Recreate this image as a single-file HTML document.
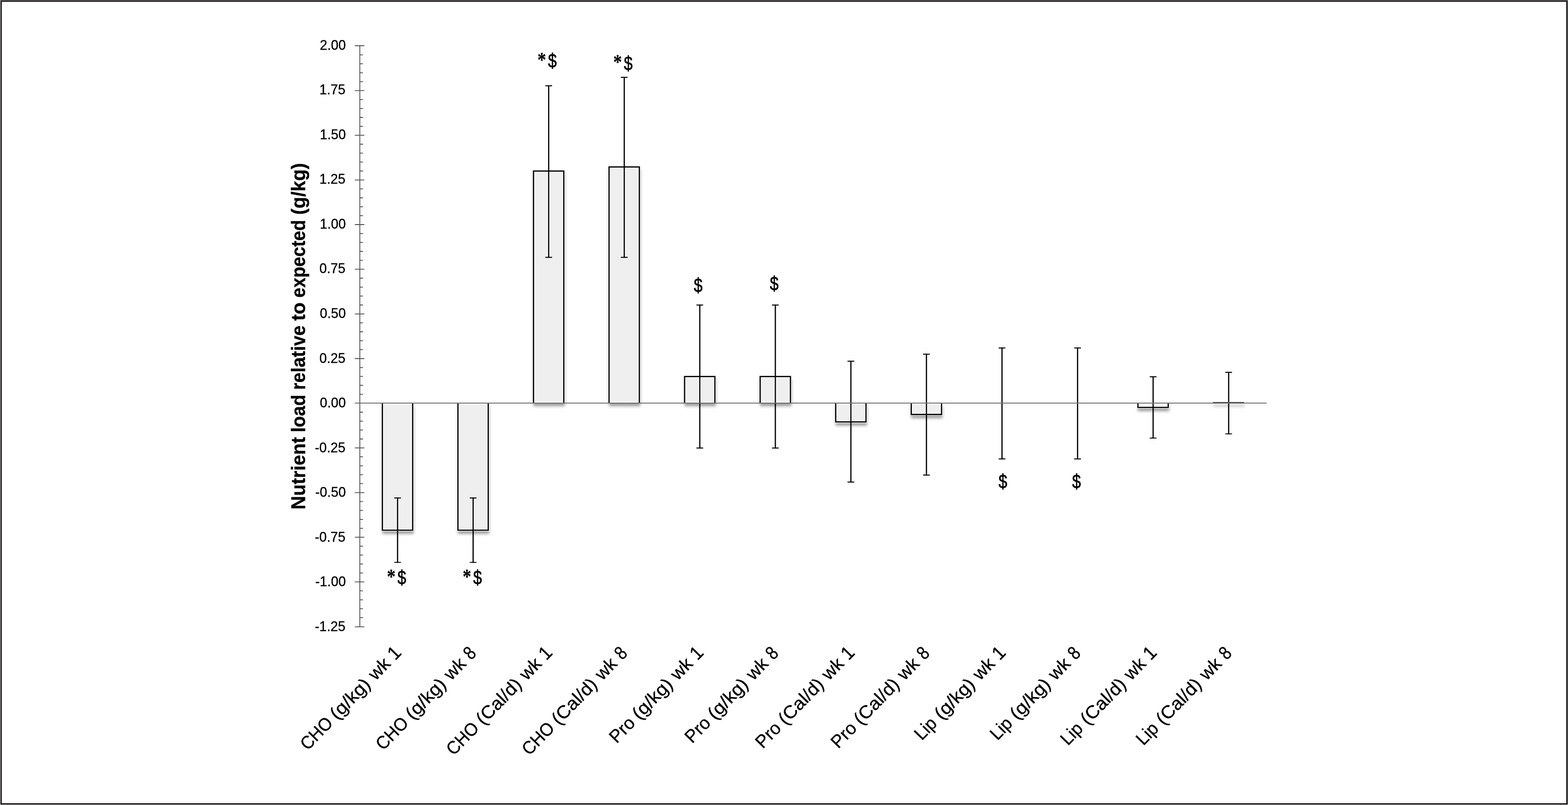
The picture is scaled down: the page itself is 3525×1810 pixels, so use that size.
<!DOCTYPE html>
<html lang="en"><head><meta charset="utf-8">
<title>Nutrient load relative to expected</title>
<style>
html,body{margin:0;padding:0;background:#fff;}
body{width:3525px;height:1810px;overflow:hidden;}
svg{display:block;}
text{font-family:"Liberation Sans",sans-serif;fill:#000;font-kerning:none;white-space:pre;}
tspan{font-kerning:none;}
.tick{font-size:30.6px;text-anchor:end;stroke:#000;stroke-width:0.4px;}
.cat{font-size:40.7px;stroke:#000;stroke-width:0.45px;}
.ann{font-size:44px;stroke:#000;stroke-width:0.9px;}
.ast{font-size:46.4px;font-family:"Liberation Serif",serif;font-weight:bold;stroke-width:0.3px;}
.title{font-size:43.5px;font-weight:bold;stroke:#000;stroke-width:0.4px;}
</style></head><body>
<svg width="3525" height="1810" viewBox="0 0 3525 1810">
<defs><filter id="sh" x="0" y="0" width="3525" height="1810" filterUnits="userSpaceOnUse"><feGaussianBlur in="SourceAlpha" stdDeviation="3"/><feOffset dx="0.8" dy="7.2"/><feComponentTransfer><feFuncA type="linear" slope="0.38"/></feComponentTransfer></filter></defs>
<rect x="0" y="0" width="3525" height="1810" fill="#fff"/>
<rect x="0" y="0" width="3525" height="1" fill="#a39f9f"/>
<rect x="0" y="1" width="1" height="1809" fill="#dedede"/>
<rect x="3524" y="1" width="1" height="1809" fill="#9a9696"/>
<rect x="0" y="1809" width="3525" height="1" fill="#d8d6d6"/>
<rect x="2.5" y="2.5" width="3520" height="1805" fill="none" stroke="#1c1819" stroke-width="3"/>
<g fill="#000" filter="url(#sh)">
<rect x="858.25" y="906.40" width="70.90" height="287.10"/>
<rect x="1028.10" y="906.40" width="70.90" height="287.10"/>
<rect x="1197.95" y="383.20" width="70.90" height="523.20"/>
<rect x="1367.80" y="373.90" width="70.90" height="532.50"/>
<rect x="1537.65" y="845.30" width="70.90" height="61.10"/>
<rect x="1707.50" y="845.30" width="70.90" height="61.10"/>
<rect x="1877.35" y="906.40" width="70.90" height="43.70"/>
<rect x="2047.20" y="906.40" width="70.90" height="27.00"/>
<rect x="2556.75" y="906.40" width="70.90" height="11.10"/>
<rect x="2726.60" y="903.50" width="70.90" height="2.90"/>
</g>
<g fill="#efefef">
<rect x="859.65" y="906.40" width="68.10" height="285.70"/>
<rect x="1029.50" y="906.40" width="68.10" height="285.70"/>
<rect x="1199.35" y="384.60" width="68.10" height="521.80"/>
<rect x="1369.20" y="375.30" width="68.10" height="531.10"/>
<rect x="1539.05" y="846.70" width="68.10" height="59.70"/>
<rect x="1708.90" y="846.70" width="68.10" height="59.70"/>
<rect x="1878.75" y="906.40" width="68.10" height="42.30"/>
<rect x="2048.60" y="906.40" width="68.10" height="25.60"/>
<rect x="2558.15" y="906.40" width="68.10" height="9.70" fill="#f5f5f5"/>
</g>
<g fill="none" stroke="#fafafa" stroke-width="5.8">
<path d="M859.65 906.40V1192.10H927.75V906.40"/>
<path d="M1029.50 906.40V1192.10H1097.60V906.40"/>
<path d="M1199.35 906.40V384.60H1267.45V906.40"/>
<path d="M1369.20 906.40V375.30H1437.30V906.40"/>
<path d="M1539.05 906.40V846.70H1607.15V906.40"/>
<path d="M1708.90 906.40V846.70H1777.00V906.40"/>
<path d="M1878.75 906.40V948.70H1946.85V906.40"/>
<path d="M2048.60 906.40V932.00H2116.70V906.40"/>
<path d="M2558.15 906.40V916.10H2626.25V906.40"/>
<path d="M893.80 1119.70V1192.10"/>
<path d="M1063.65 1119.70V1192.10"/>
<path d="M1233.50 384.60V578.70"/>
<path d="M1403.35 375.30V578.70"/>
<path d="M1573.20 846.70V906.40"/>
<path d="M1743.05 846.70V906.40"/>
<path d="M1912.90 906.40V948.70"/>
<path d="M2082.75 906.40V932.00"/>
<path d="M2592.30 906.40V916.10"/>
</g>
<g fill="#fafafa">
<rect x="859.65" y="906.40" width="68.10" height="2.8"/>
<rect x="1029.50" y="906.40" width="68.10" height="2.8"/>
<rect x="1199.35" y="903.60" width="68.10" height="2.8"/>
<rect x="1369.20" y="903.60" width="68.10" height="2.8"/>
<rect x="1539.05" y="903.60" width="68.10" height="2.8"/>
<rect x="1708.90" y="903.60" width="68.10" height="2.8"/>
<rect x="1878.75" y="906.40" width="68.10" height="2.8"/>
<rect x="2048.60" y="906.40" width="68.10" height="2.8"/>
<rect x="2558.15" y="906.40" width="68.10" height="2.8"/>
</g>
<g fill="none" stroke="#000" stroke-width="2.8" stroke-linejoin="miter">
<path d="M859.65 906.40V1192.10H927.75V906.40"/>
<path d="M1029.50 906.40V1192.10H1097.60V906.40"/>
<path d="M1199.35 906.40V384.60H1267.45V906.40"/>
<path d="M1369.20 906.40V375.30H1437.30V906.40"/>
<path d="M1539.05 906.40V846.70H1607.15V906.40"/>
<path d="M1708.90 906.40V846.70H1777.00V906.40"/>
<path d="M1878.75 906.40V948.70H1946.85V906.40"/>
<path d="M2048.60 906.40V932.00H2116.70V906.40"/>
<path d="M2558.15 906.40V916.10H2626.25V906.40"/>
</g>
<g stroke="#000" stroke-width="2.7" fill="none">
<path d="M893.80 1118.70V1265.50"/>
<path d="M1063.65 1118.70V1265.50"/>
<path d="M1233.50 191.90V579.70"/>
<path d="M1403.35 172.90V579.70"/>
<path d="M1573.20 684.80V1008.30"/>
<path d="M1743.05 684.80V1008.30"/>
<path d="M1912.90 811.20V1084.90"/>
<path d="M2082.75 795.30V1069.20"/>
<path d="M2252.60 781.30V1032.80"/>
<path d="M2422.45 781.30V1032.80"/>
<path d="M2592.30 846.10V986.00"/>
<path d="M2762.15 836.20V976.50"/>
</g>
<g stroke="#000" stroke-width="2.2" fill="none">
<path d="M886.20 1119.70h15.2M886.20 1264.50h15.2"/>
<path d="M1056.05 1119.70h15.2M1056.05 1264.50h15.2"/>
<path d="M1225.90 192.90h15.2M1225.90 578.70h15.2"/>
<path d="M1395.75 173.90h15.2M1395.75 578.70h15.2"/>
<path d="M1565.60 685.80h15.2M1565.60 1007.30h15.2"/>
<path d="M1735.45 685.80h15.2M1735.45 1007.30h15.2"/>
<path d="M1905.30 812.20h15.2M1905.30 1083.90h15.2"/>
<path d="M2075.15 796.30h15.2M2075.15 1068.20h15.2"/>
<path d="M2245.00 782.30h15.2M2245.00 1031.80h15.2"/>
<path d="M2414.85 782.30h15.2M2414.85 1031.80h15.2"/>
<path d="M2584.70 847.10h15.2M2584.70 985.00h15.2"/>
<path d="M2754.55 837.20h15.2M2754.55 975.50h15.2"/>
</g>
<g stroke="#4a4a4a" stroke-width="1.8" fill="none">
<path d="M808.90 101.85V1410.25"/>
<path d="M797.70 102.75H819.10M808.90 123.38H816.10M808.90 143.47H816.10M808.90 163.55H816.10M808.90 183.64H816.10M797.70 203.72H819.10M808.90 223.81H816.10M808.90 243.89H816.10M808.90 263.98H816.10M808.90 284.06H816.10M797.70 304.15H819.10M808.90 324.23H816.10M808.90 344.32H816.10M808.90 364.40H816.10M808.90 384.48H816.10M797.70 404.57H819.10M808.90 424.65H816.10M808.90 444.74H816.10M808.90 464.82H816.10M808.90 484.91H816.10M797.70 504.99H819.10M808.90 525.08H816.10M808.90 545.16H816.10M808.90 565.25H816.10M808.90 585.33H816.10M797.70 605.42H819.10M808.90 625.50H816.10M808.90 645.58H816.10M808.90 665.67H816.10M808.90 685.75H816.10M797.70 705.84H819.10M808.90 725.92H816.10M808.90 746.01H816.10M808.90 766.09H816.10M808.90 786.18H816.10M797.70 806.26H819.10M808.90 826.35H816.10M808.90 846.43H816.10M808.90 866.52H816.10M808.90 886.60H816.10M808.90 926.77H816.10M808.90 946.85H816.10M808.90 966.94H816.10M808.90 987.02H816.10M797.70 1007.11H819.10M808.90 1027.19H816.10M808.90 1047.28H816.10M808.90 1067.36H816.10M808.90 1087.45H816.10M797.70 1107.53H819.10M808.90 1127.62H816.10M808.90 1147.70H816.10M808.90 1167.78H816.10M808.90 1187.87H816.10M797.70 1207.95H819.10M808.90 1228.04H816.10M808.90 1248.12H816.10M808.90 1268.21H816.10M808.90 1288.29H816.10M797.70 1308.38H819.10M808.90 1328.46H816.10M808.90 1348.55H816.10M808.90 1368.63H816.10M808.90 1388.72H816.10M797.70 1409.35H819.10"/>
</g>
<path d="M798.30 906.40H2846.50" stroke="#555" stroke-width="1.85" stroke-linecap="round" fill="none"/>
<rect x="2726.80" y="903.90" width="70.10" height="2.60" fill="#505050"/>
<path d="M892.50 906.40h2.6M1062.35 906.40h2.6M1232.20 906.40h2.6M1402.05 906.40h2.6M1571.90 906.40h2.6M1741.75 906.40h2.6M1911.60 906.40h2.6M2081.45 906.40h2.6M2251.30 906.40h2.6M2421.15 906.40h2.6M2591.00 906.40h2.6M2760.85 906.40h2.6M858.35 906.40h2.6M926.45 906.40h2.6M1028.20 906.40h2.6M1096.30 906.40h2.6M1198.05 906.40h2.6M1266.15 906.40h2.6M1367.90 906.40h2.6M1436.00 906.40h2.6M1537.75 906.40h2.6M1605.85 906.40h2.6M1707.60 906.40h2.6M1775.70 906.40h2.6M1877.45 906.40h2.6M1945.55 906.40h2.6M2047.30 906.40h2.6M2115.40 906.40h2.6M2556.85 906.40h2.6M2624.95 906.40h2.6" stroke="#7e7e7e" stroke-width="1.85" fill="none"/>
<g class="tick">
<text x="777.5" y="111.95" textLength="58.6" lengthAdjust="spacingAndGlyphs">2.00</text>
<text x="776.6" y="212.46" textLength="58.6" lengthAdjust="spacingAndGlyphs">1.75</text>
<text x="777.5" y="312.97" textLength="58.6" lengthAdjust="spacingAndGlyphs">1.50</text>
<text x="776.6" y="413.47" textLength="58.6" lengthAdjust="spacingAndGlyphs">1.25</text>
<text x="777.5" y="513.98" textLength="58.6" lengthAdjust="spacingAndGlyphs">1.00</text>
<text x="776.6" y="614.49" textLength="58.6" lengthAdjust="spacingAndGlyphs">0.75</text>
<text x="777.5" y="715.00" textLength="58.6" lengthAdjust="spacingAndGlyphs">0.50</text>
<text x="776.6" y="815.50" textLength="58.6" lengthAdjust="spacingAndGlyphs">0.25</text>
<text x="777.5" y="916.01" textLength="58.6" lengthAdjust="spacingAndGlyphs">0.00</text>
<text x="776.6" y="1016.52" textLength="68.8" lengthAdjust="spacingAndGlyphs">-0.25</text>
<text x="777.5" y="1117.03" textLength="68.8" lengthAdjust="spacingAndGlyphs">-0.50</text>
<text x="776.6" y="1217.53" textLength="68.8" lengthAdjust="spacingAndGlyphs">-0.75</text>
<text x="777.5" y="1318.04" textLength="68.8" lengthAdjust="spacingAndGlyphs">-1.00</text>
<text x="776.6" y="1418.55" textLength="68.8" lengthAdjust="spacingAndGlyphs">-1.25</text>
</g>
<text class="title" transform="translate(686.00 1143.20) rotate(-90)"><tspan x="-2.65" textLength="163.27" lengthAdjust="spacingAndGlyphs">Nutrient</tspan> <tspan x="171.13" textLength="84.59" lengthAdjust="spacingAndGlyphs">load</tspan> <tspan x="266.57" textLength="144.94" lengthAdjust="spacingAndGlyphs">relative</tspan> <tspan x="421.86" textLength="41.56" lengthAdjust="spacingAndGlyphs">to</tspan> <tspan x="474.02" textLength="174.83" lengthAdjust="spacingAndGlyphs">expected</tspan> <tspan x="660.27" textLength="116.57" lengthAdjust="spacingAndGlyphs">(g/kg)</tspan></text>
<g class="cat">
<text transform="translate(904.90 1469.40) rotate(-45.8)"><tspan x="-305.92" textLength="84.92" lengthAdjust="spacingAndGlyphs">CHO</tspan> <tspan x="-210.56" textLength="110.83" lengthAdjust="spacingAndGlyphs">(g/kg)</tspan> <tspan x="-86.71" textLength="51.23" lengthAdjust="spacingAndGlyphs">wk</tspan> <tspan x="-23.41" textLength="22.90" lengthAdjust="spacingAndGlyphs" font-size="43">1</tspan></text>
<text transform="translate(1074.75 1469.40) rotate(-45.8)"><tspan x="-305.92" textLength="84.92" lengthAdjust="spacingAndGlyphs">CHO</tspan> <tspan x="-210.56" textLength="110.83" lengthAdjust="spacingAndGlyphs">(g/kg)</tspan> <tspan x="-86.71" textLength="51.23" lengthAdjust="spacingAndGlyphs">wk</tspan> <tspan x="-22.54" textLength="20.09" lengthAdjust="spacingAndGlyphs" font-size="43">8</tspan></text>
<text transform="translate(1244.60 1469.40) rotate(-45.8)"><tspan x="-322.12" textLength="84.92" lengthAdjust="spacingAndGlyphs">CHO</tspan> <tspan x="-226.70" textLength="126.90" lengthAdjust="spacingAndGlyphs">(Cal/d)</tspan> <tspan x="-86.71" textLength="51.23" lengthAdjust="spacingAndGlyphs">wk</tspan> <tspan x="-23.41" textLength="22.90" lengthAdjust="spacingAndGlyphs" font-size="43">1</tspan></text>
<text transform="translate(1414.45 1469.40) rotate(-45.8)"><tspan x="-322.12" textLength="84.92" lengthAdjust="spacingAndGlyphs">CHO</tspan> <tspan x="-226.70" textLength="126.90" lengthAdjust="spacingAndGlyphs">(Cal/d)</tspan> <tspan x="-86.71" textLength="51.23" lengthAdjust="spacingAndGlyphs">wk</tspan> <tspan x="-22.54" textLength="20.09" lengthAdjust="spacingAndGlyphs" font-size="43">8</tspan></text>
<text transform="translate(1584.30 1469.40) rotate(-45.8)"><tspan x="-284.09" textLength="62.86" lengthAdjust="spacingAndGlyphs">Pro</tspan> <tspan x="-210.56" textLength="110.83" lengthAdjust="spacingAndGlyphs">(g/kg)</tspan> <tspan x="-86.71" textLength="51.23" lengthAdjust="spacingAndGlyphs">wk</tspan> <tspan x="-23.41" textLength="22.90" lengthAdjust="spacingAndGlyphs" font-size="43">1</tspan></text>
<text transform="translate(1754.15 1469.40) rotate(-45.8)"><tspan x="-284.09" textLength="62.86" lengthAdjust="spacingAndGlyphs">Pro</tspan> <tspan x="-210.56" textLength="110.83" lengthAdjust="spacingAndGlyphs">(g/kg)</tspan> <tspan x="-86.71" textLength="51.23" lengthAdjust="spacingAndGlyphs">wk</tspan> <tspan x="-22.54" textLength="20.09" lengthAdjust="spacingAndGlyphs" font-size="43">8</tspan></text>
<text transform="translate(1924.00 1469.40) rotate(-45.8)"><tspan x="-300.29" textLength="62.86" lengthAdjust="spacingAndGlyphs">Pro</tspan> <tspan x="-226.70" textLength="126.90" lengthAdjust="spacingAndGlyphs">(Cal/d)</tspan> <tspan x="-86.71" textLength="51.23" lengthAdjust="spacingAndGlyphs">wk</tspan> <tspan x="-23.41" textLength="22.90" lengthAdjust="spacingAndGlyphs" font-size="43">1</tspan></text>
<text transform="translate(2093.85 1469.40) rotate(-45.8)"><tspan x="-300.29" textLength="62.86" lengthAdjust="spacingAndGlyphs">Pro</tspan> <tspan x="-226.70" textLength="126.90" lengthAdjust="spacingAndGlyphs">(Cal/d)</tspan> <tspan x="-86.71" textLength="51.23" lengthAdjust="spacingAndGlyphs">wk</tspan> <tspan x="-22.54" textLength="20.09" lengthAdjust="spacingAndGlyphs" font-size="43">8</tspan></text>
<text transform="translate(2263.70 1469.40) rotate(-45.8)"><tspan x="-274.57" textLength="51.98" lengthAdjust="spacingAndGlyphs">Lip</tspan> <tspan x="-210.56" textLength="110.83" lengthAdjust="spacingAndGlyphs">(g/kg)</tspan> <tspan x="-86.71" textLength="51.23" lengthAdjust="spacingAndGlyphs">wk</tspan> <tspan x="-23.41" textLength="22.90" lengthAdjust="spacingAndGlyphs" font-size="43">1</tspan></text>
<text transform="translate(2433.55 1469.40) rotate(-45.8)"><tspan x="-274.57" textLength="51.98" lengthAdjust="spacingAndGlyphs">Lip</tspan> <tspan x="-210.56" textLength="110.83" lengthAdjust="spacingAndGlyphs">(g/kg)</tspan> <tspan x="-86.71" textLength="51.23" lengthAdjust="spacingAndGlyphs">wk</tspan> <tspan x="-22.54" textLength="20.09" lengthAdjust="spacingAndGlyphs" font-size="43">8</tspan></text>
<text transform="translate(2603.40 1469.40) rotate(-45.8)"><tspan x="-290.77" textLength="51.98" lengthAdjust="spacingAndGlyphs">Lip</tspan> <tspan x="-226.70" textLength="126.90" lengthAdjust="spacingAndGlyphs">(Cal/d)</tspan> <tspan x="-86.71" textLength="51.23" lengthAdjust="spacingAndGlyphs">wk</tspan> <tspan x="-23.41" textLength="22.90" lengthAdjust="spacingAndGlyphs" font-size="43">1</tspan></text>
<text transform="translate(2773.25 1469.40) rotate(-45.8)"><tspan x="-290.77" textLength="51.98" lengthAdjust="spacingAndGlyphs">Lip</tspan> <tspan x="-226.70" textLength="126.90" lengthAdjust="spacingAndGlyphs">(Cal/d)</tspan> <tspan x="-86.71" textLength="51.23" lengthAdjust="spacingAndGlyphs">wk</tspan> <tspan x="-22.54" textLength="20.09" lengthAdjust="spacingAndGlyphs" font-size="43">8</tspan></text>
</g>
<g class="ann">
<text><tspan class="ast" x="869.63" y="1311.81" textLength="19.54" lengthAdjust="spacingAndGlyphs">*</tspan><tspan x="893.47" y="1314.46" textLength="19.65" lengthAdjust="spacingAndGlyphs">$</tspan></text>
<text><tspan class="ast" x="1039.93" y="1311.81" textLength="19.54" lengthAdjust="spacingAndGlyphs">*</tspan><tspan x="1063.77" y="1314.46" textLength="19.65" lengthAdjust="spacingAndGlyphs">$</tspan></text>
<text><tspan class="ast" x="1208.13" y="149.81" textLength="19.54" lengthAdjust="spacingAndGlyphs">*</tspan><tspan x="1231.97" y="152.46" textLength="19.65" lengthAdjust="spacingAndGlyphs">$</tspan></text>
<text><tspan class="ast" x="1378.73" y="155.31" textLength="19.54" lengthAdjust="spacingAndGlyphs">*</tspan><tspan x="1402.57" y="157.96" textLength="19.65" lengthAdjust="spacingAndGlyphs">$</tspan></text>
<text><tspan x="1559.87" y="657.46" textLength="19.65" lengthAdjust="spacingAndGlyphs">$</tspan></text>
<text><tspan x="1730.87" y="652.86" textLength="19.65" lengthAdjust="spacingAndGlyphs">$</tspan></text>
<text><tspan x="2244.87" y="1097.66" textLength="19.65" lengthAdjust="spacingAndGlyphs">$</tspan></text>
<text><tspan x="2410.17" y="1097.66" textLength="19.65" lengthAdjust="spacingAndGlyphs">$</tspan></text>
</g>
</svg></body></html>
